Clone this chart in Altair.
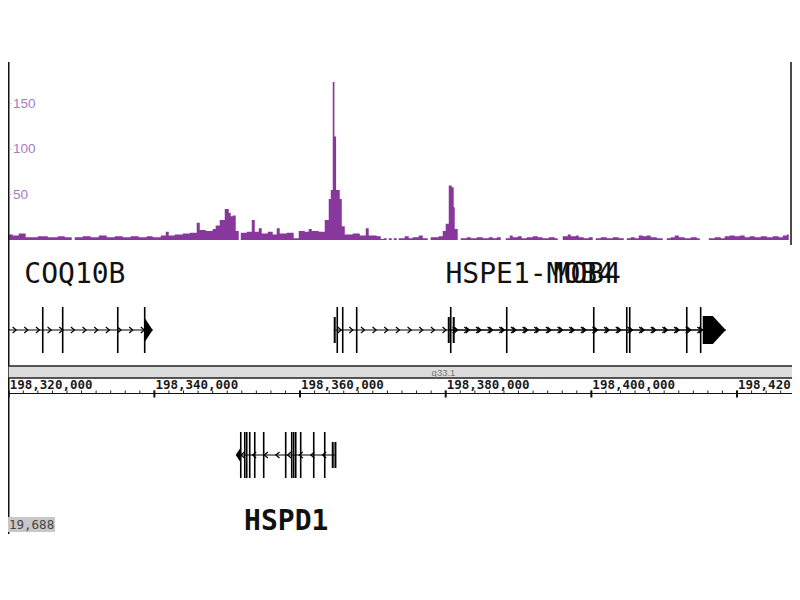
import altair as alt
import pandas as pd

# ---------------- data ----------------
CHR_START = 198_320_000          # origin of the kb offsets below
X_MIN, X_MAX = 198_319_900, 198_427_550

# signal track (step bins): start position in kb from CHR_START, value
sig_kb = [-0.6, 0.55, 1.37, 2.33, 3.98, 5.36, 6.73, 7.69, 8.65, 9.06,
          10.16, 11.26, 12.36, 13.46, 14.56, 15.65, 16.75, 17.85, 18.95, 19.77,
          20.87, 21.56, 21.97, 22.79, 23.89, 24.85, 25.81, 26.23, 27.05, 28.01,
          28.42, 28.97, 29.66, 30.21, 30.48, 30.75, 31.17, 31.58, 31.86, 32.68,
          33.37, 33.78, 34.33, 34.74, 35.56, 36.25, 36.80, 37.21, 38.17, 39.13,
          39.82, 40.64, 41.19, 41.61, 42.57, 43.39, 43.94, 44.22, 44.49, 44.72,
          44.95, 45.45, 45.73, 46.14, 47.23, 48.20, 49.02, 49.43, 50.53, 51.08,
          51.49, 51.90, 52.18, 52.59, 52.86, 53.28, 53.55, 54.37, 54.92, 55.47,
          56.30, 56.85, 57.53, 57.94, 59.04, 59.59, 60.00, 60.42, 60.83, 61.10,
          61.24, 61.65, 62.06, 62.89, 63.44, 64.26, 65.09, 65.91, 66.46, 67.01,
          67.56, 68.24, 68.79, 69.20, 69.89, 70.44, 71.13, 71.95, 72.64, 73.32,
          74.15, 74.97, 75.38, 76.07, 76.76, 77.17, 77.86, 78.27, 78.95, 79.64,
          80.19, 80.60, 81.29, 82.11, 82.94, 83.76, 84.45, 84.86, 85.41, 85.96,
          86.51, 87.06, 87.60, 88.15, 88.98, 89.80, 90.35, 90.90, 91.45, 92.00,
          92.82, 93.65, 94.47, 94.88, 96.12, 96.94, 97.77, 98.31, 99.00, 99.69,
          100.37, 101.06, 101.74, 102.43, 103.26, 104.08, 104.90, 105.73, 106.28, 106.83,
          107.10, 107.92, 108.75]
sig_val = [6, 5, 7, 3, 4, 3, 4, 3, 0, 3,
           4, 3, 5, 3, 4, 3, 4, 3, 4, 3,
           5, 9, 5, 6, 7, 8, 19, 11, 10, 12,
           16, 22, 34, 30, 26, 27, 10, 0, 8, 9,
           22, 9, 13, 7, 9, 6, 13, 7, 8, 2,
           10, 9, 12, 10, 9, 22, 45, 55, 174, 114,
           55, 45, 15, 6, 7, 5, 13, 5, 4, 1,
           2, 0, 2, 0, 2, 0, 2, 4, 2, 3,
           5, 2, 0, 3, 4, 10, 18, 60, 58, 36,
           12, 0, 2, 3, 2, 3, 2, 3, 2, 3,
           0, 2, 5, 3, 4, 2, 3, 4, 3, 2,
           3, 2, 0, 4, 6, 4, 5, 3, 2, 3,
           0, 2, 3, 2, 3, 2, 0, 2, 3, 2,
           5, 4, 5, 3, 2, 0, 2, 3, 5, 3,
           2, 3, 2, 0, 2, 3, 2, 4, 5, 4,
           5, 3, 4, 3, 4, 3, 4, 3, 5, 6,
           0, 3, 3]
y_ticks = [50, 100, 150]
y_tick_labels = ["50", "100", "150"]

# genes
gene_name = ["COQ10B", "HSPE1-MOB4", "MOB4", "HSPD1"]
gene_start_kb = [-1.6, 44.63, 60.42, 31.31]
gene_end_kb = [19.77, 98.45, 98.45, 44.90]
gene_strand = ["+", "+", "+", "-"]
gene_track = ["top", "top", "top", "bottom"]

# exons (kb), kind: tall = coding, short = UTR
exon_gene = (["COQ10B"] * 4
             + ["HSPE1-MOB4"] * 11
             + ["MOB4"] * 2
             + ["HSPD1"] * 15)
exon_kb = ([4.67, 7.41, 14.97, 18.67]
           + [44.76, 45.11, 45.86, 47.78, 60.69, 68.38, 80.33, 84.86, 85.27, 93.10, 95.01]
           + [60.42, 61.10]
           + [31.86, 32.41, 32.68, 33.09, 33.78, 35.01, 38.03, 38.86, 39.13, 39.41,
              40.09, 41.88, 43.39, 44.49, 44.86])
exon_kind = (["tall"] * 4
             + ["short"] + ["tall"] * 10
             + ["short"] * 2
             + ["tall"] * 13 + ["short"] * 2)

# gene end caps (kb)
cap_gene = ["COQ10B", "HSPE1-MOB4", "HSPD1"]
cap_kb = [19.22, 96.87, 31.51]
cap_style = ["tri", "block", "left"]

major_ticks = [198_320_000, 198_340_000, 198_360_000, 198_380_000, 198_400_000, 198_420_000]
major_labels = ["198,320,000", "198,340,000", "198,360,000", "198,380,000",
                "198,400,000", "198,420,000"]
minor_ticks = list(range(198_320_000, 198_430_001, 2_000))
band_name = ["q33.1"]
band_center_kb = [59.7]
range_label = ["19,688"]

# ---------------- tables ----------------
def bp(k):
    return CHR_START + k * 1000

sig = pd.DataFrame({"pos": [bp(k) for k in sig_kb], "value": sig_val})
genes = pd.DataFrame({
    "name": gene_name,
    "start": [bp(k) for k in gene_start_kb],
    "end": [bp(k) for k in gene_end_kb],
    "strand": gene_strand,
    "track": gene_track,
})
genes["mid"] = (genes["start"] + genes["end"]) / 2
exons = pd.DataFrame({"gene": exon_gene, "pos": [bp(k) for k in exon_kb], "kind": exon_kind})
exons["track"] = exons["gene"].map(dict(zip(gene_name, gene_track)))
caps = pd.DataFrame({"gene": cap_gene, "pos": [bp(k) for k in cap_kb], "style": cap_style})

# strand chevrons repeated along each gene body
CHEV_STEP = 1600
chev_rows = []
for n, s, e, st, tr in zip(gene_name, genes["start"], genes["end"], gene_strand, gene_track):
    p = s + CHEV_STEP / 2
    while p < e - 300:
        chev_rows.append({"gene": n, "pos": p, "strand": st, "track": tr})
        p += CHEV_STEP
chev = pd.DataFrame(chev_rows)

ticks_minor = pd.DataFrame({"pos": minor_ticks})
ticks_major = pd.DataFrame({"pos": major_ticks, "label": major_labels})
yt = pd.DataFrame({"value": y_ticks, "label": y_tick_labels})
band = pd.DataFrame({"name": band_name, "pos": [bp(k) for k in band_center_kb]})
rlab = pd.DataFrame({"label": range_label})

# ---------------- layout / style ----------------
W, H = 784, 472
SIG_H = 183
AXIS_Y = 331.5
TRACK_Y = {"top": 268, "bottom": 393}
LABEL_Y = {"top": 221, "bottom": 468}
MONO = "DejaVu Sans Mono"
PURPLE = "#88389c"
LAVENDER = "#a77bc0"

xscale = alt.Scale(domain=[X_MIN, X_MAX], nice=False, zero=False)
yscale = alt.Scale(domain=[-323.8, 196], nice=False, zero=False)


def X(field="pos"):
    return alt.X(f"{field}:Q", scale=xscale, axis=None)


def Y(field="value"):
    return alt.Y(f"{field}:Q", scale=yscale, axis=None)


layers = []

# signal
layers.append(alt.Chart(sig).mark_area(interpolate="step-after", color=PURPLE, clip=True)
              .encode(x=X(), y=Y(), y2=alt.datum(0)))

# frame lines
layers.append(alt.Chart(rlab).mark_rule(color="#111111", strokeWidth=1.5)
              .encode(x=alt.value(0.75), y=alt.value(0), y2=alt.value(H)))
layers.append(alt.Chart(rlab).mark_rule(color="#111111", strokeWidth=1.5)
              .encode(x=alt.value(W - 1), y=alt.value(0), y2=alt.value(SIG_H)))

# signal scale labels
layers.append(alt.Chart(yt).mark_rule(color="#c9b0d6", strokeWidth=1)
              .encode(x=alt.value(1.5), x2=alt.value(3.5), y=Y()))
layers.append(alt.Chart(yt).mark_text(color=LAVENDER, fontSize=13.5, font="Liberation Sans",
                                      align="left", baseline="middle")
              .encode(x=alt.value(5), y=Y(), text="label:N"))

for tr in ["top", "bottom"]:
    yc = TRACK_Y[tr]
    layers.append(alt.Chart(genes).transform_filter(alt.datum.track == tr)
                  .mark_rule(color="black", strokeWidth=1.2, clip=True)
                  .encode(x=X("start"), x2=alt.X2("end:Q"), y=alt.value(yc)))
    layers.append(alt.Chart(exons).transform_filter(
        (alt.datum.track == tr) & (alt.datum.kind == "tall"))
        .mark_rule(color="black", strokeWidth=1.6, clip=True)
        .encode(x=X(), y=alt.value(yc - 23), y2=alt.value(yc + 23)))
    layers.append(alt.Chart(exons).transform_filter(
        (alt.datum.track == tr) & (alt.datum.kind == "short"))
        .mark_rule(color="black", strokeWidth=2, clip=True)
        .encode(x=X(), y=alt.value(yc - 13), y2=alt.value(yc + 13)))
    for st, path in [("+", "M-0.6,-0.9L0.5,0L-0.6,0.9"), ("-", "M0.6,-0.9L-0.5,0L0.6,0.9")]:
        layers.append(alt.Chart(chev).transform_filter(
            (alt.datum.track == tr) & (alt.datum.strand == st))
            .mark_point(shape=path, filled=False, size=42, strokeWidth=1.2,
                        color="black", opacity=1, clip=True)
            .encode(x=X(), y=alt.value(yc)))
    layers.append(alt.Chart(genes).transform_filter(alt.datum.track == tr)
                  .mark_text(font=MONO, fontSize=28, align="center",
                             baseline="alphabetic", color="#111111",
                             fontWeight="bold" if tr == "bottom" else "normal")
                  .encode(x=X("mid"), y=alt.value(LABEL_Y[tr]), text="name:N"))

cap_shapes = {
    "tri": ("M-0.33,-1L0.33,0L-0.33,1Z", 576, TRACK_Y["top"]),
    "block": ("M-0.82,-1L-0.1,-1L0.82,0L-0.1,1L-0.82,1Z", 784, TRACK_Y["top"]),
    "left": ("M0.33,-1L-0.33,0L0.33,1Z", 225, TRACK_Y["bottom"]),
}
for style, (path, size, yc) in cap_shapes.items():
    layers.append(alt.Chart(caps).transform_filter(alt.datum.style == style)
                  .mark_point(shape=path, filled=True, size=size, color="black",
                              opacity=1, clip=True)
                  .encode(x=X(), y=alt.value(yc)))

# ideogram band
layers.append(alt.Chart(band).mark_rect(fill="#dcdcdc", stroke="#222222", strokeWidth=1.5)
              .encode(x=alt.value(0), x2=alt.value(W + 2), y=alt.value(304), y2=alt.value(316)))
layers.append(alt.Chart(band).mark_text(fontSize=9.5, color="#777777", align="center",
                                        baseline="alphabetic", font="Liberation Sans")
              .encode(x=X(), y=alt.value(314), text="name:N"))

# ruler
layers.append(alt.Chart(rlab).mark_rule(color="#111111", strokeWidth=1)
              .encode(x=alt.value(0), x2=alt.value(W), y=alt.value(AXIS_Y)))
layers.append(alt.Chart(ticks_minor).mark_rule(color="#222222", strokeWidth=1, clip=True)
              .encode(x=X(), y=alt.value(AXIS_Y - 3), y2=alt.value(AXIS_Y)))
layers.append(alt.Chart(ticks_major).mark_rule(color="#111111", strokeWidth=2, clip=True)
              .encode(x=X(), y=alt.value(AXIS_Y - 3), y2=alt.value(AXIS_Y + 4)))
layers.append(alt.Chart(ticks_major).mark_text(font=MONO, fontSize=12.5, fontWeight="bold",
                                               color="#1a1a1a", align="left",
                                               baseline="alphabetic", dx=1)
              .encode(x=X(), y=alt.value(AXIS_Y - 5), text="label:N"))

# data-range label at the bottom left
layers.append(alt.Chart(rlab).mark_rect(fill="#c8c8c8")
              .encode(x=alt.value(0), x2=alt.value(47), y=alt.value(455), y2=alt.value(470)))
layers.append(alt.Chart(rlab).mark_text(font=MONO, fontSize=12.5, color="#444444",
                                        align="left", baseline="alphabetic")
              .encode(x=alt.value(1), y=alt.value(467), text="label:N"))

chart = alt.layer(*layers).properties(
    width=W, height=H,
    background="white",
    autosize=alt.AutoSizeParams(type="none"),
    padding={"top": 54, "left": 0, "right": 0, "bottom": 0},
).configure_view(stroke="transparent", strokeWidth=0)

chart.save("out.html", embed_options={"renderer": "svg", "actions": False})
